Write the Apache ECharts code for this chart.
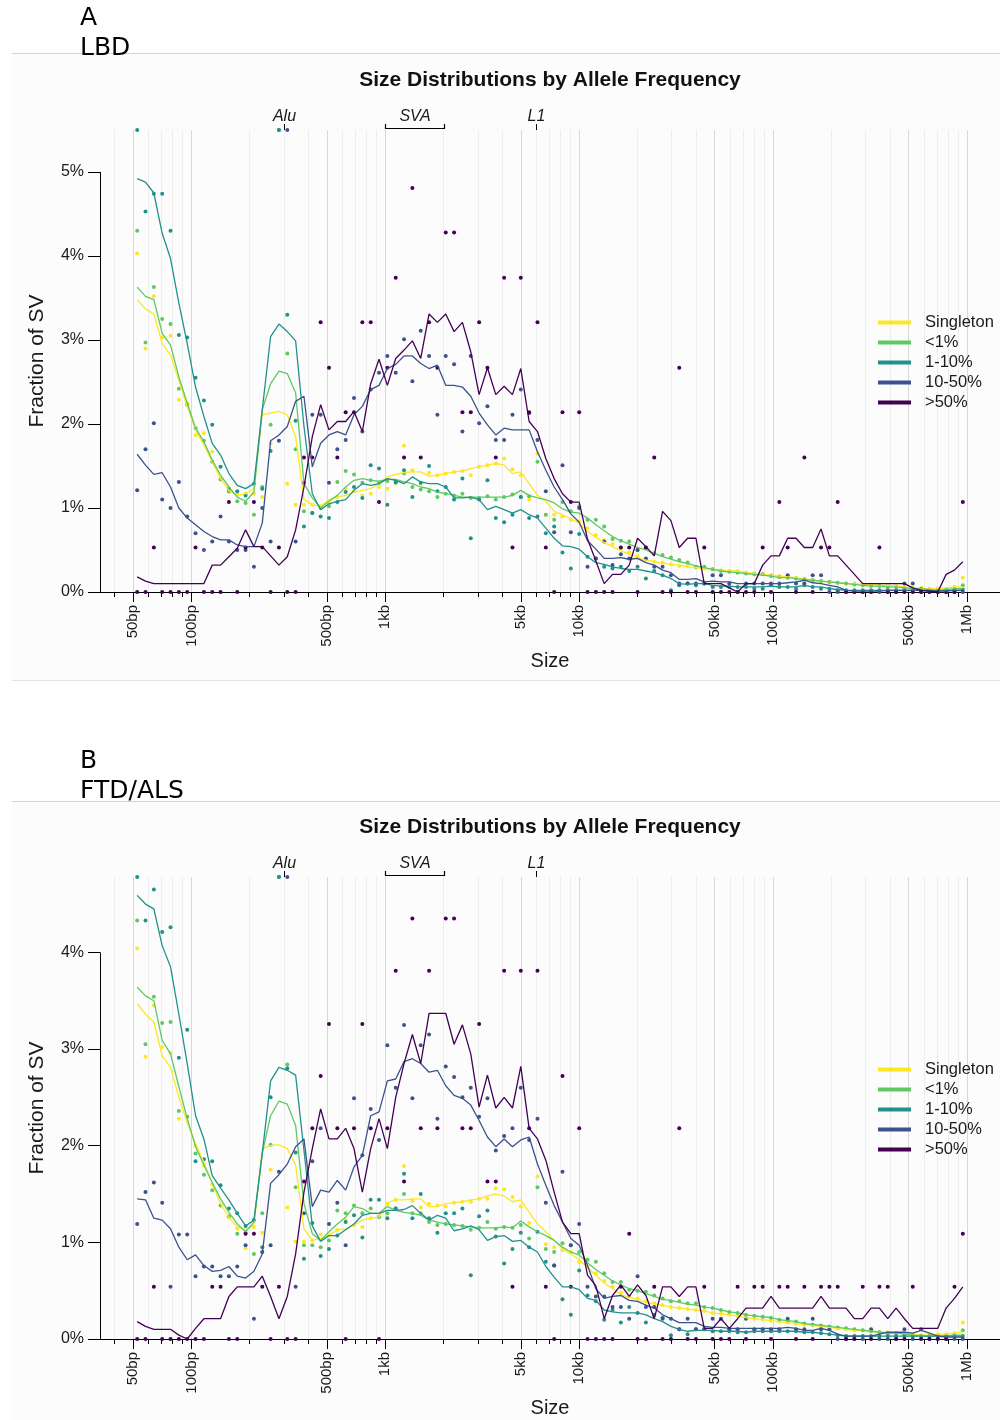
<!DOCTYPE html>
<html><head><meta charset="utf-8">
<script src="https://cdn.jsdelivr.net/npm/echarts@6/dist/echarts.min.js"></script>
<style>html,body{margin:0;padding:0;background:#fff}#c{width:1000px;height:1420px}</style>
</head><body><div id="c"></div>
<script>
// ---- binning of SV sizes (log-spaced bins, 50bp .. 1Mb) ----
const binCount = 100, binMinBp = 50, binMaxBp = 1e6;
const seriesNames = ['Singleton', '<1%', '1-10%', '10-50%', '>50%'];
const seriesColors = ['#fde725', '#5ec962', '#21918c', '#3b528b', '#440154'];
const tickLabelValues = [50, 100, 500, 1000, 5000, 10000, 50000, 100000, 500000, 1000000];
const tickLabelText = ['50bp', '100bp', '500bp', '1kb', '5kb', '10kb', '50kb', '100kb', '500kb', '1Mb'];
const minorTickValues = [40,50,60,70,80,90,100,200,300,400,500,600,700,800,900,1000,2000,3000,4000,5000,6000,7000,8000,9000,
  10000,20000,30000,40000,50000,60000,70000,80000,90000,100000,200000,300000,400000,500000,600000,700000,800000,900000,1000000];
const yTickValues = [0, 1, 2, 3, 4, 5];
const repeatNames = ['Alu', 'SVA', 'L1'];
const repeatStart = [300, 1000, 6000];
const repeatEnd = [300, 2000, 6000];
const panelLetters = ['A', 'B'];
const panelCohorts = ['LBD', 'FTD/ALS'];
const chartTitle = 'Size Distributions by Allele Frequency';

// ---- Panel A (LBD): smoothed lines (% of SV) ----
const A_line_single = [3.48,3.37,3.31,2.96,2.82,2.52,2.21,1.93,1.75,1.55,
 1.35,1.21,1.15,1.17,1.23,2.11,2.13,2.15,2.11,1.85,
 1.10,1.04,1.02,1.10,1.13,1.15,1.19,1.21,1.23,1.29,
 1.37,1.40,1.42,1.43,1.43,1.38,1.39,1.41,1.43,1.44,
 1.47,1.49,1.51,1.53,1.51,1.41,1.43,1.29,1.15,1.08,
 0.96,0.92,0.87,0.82,0.72,0.65,0.59,0.54,0.49,0.45,
 0.41,0.38,0.36,0.34,0.33,0.32,0.30,0.29,0.28,0.27,
 0.26,0.25,0.25,0.23,0.22,0.21,0.20,0.19,0.18,0.17,
 0.15,0.14,0.13,0.12,0.11,0.10,0.10,0.09,0.09,0.08,
 0.08,0.07,0.06,0.05,0.04,0.04,0.04,0.05,0.06,0.06];
const A_line_lt1 = [3.63,3.52,3.48,3.08,2.94,2.56,2.25,1.95,1.79,1.57,
 1.39,1.25,1.13,1.08,1.19,2.17,2.48,2.63,2.60,2.37,
 1.29,1.12,1.00,1.08,1.15,1.25,1.33,1.35,1.33,1.32,
 1.34,1.34,1.31,1.29,1.25,1.23,1.19,1.17,1.15,1.13,
 1.13,1.13,1.13,1.13,1.13,1.15,1.21,1.15,1.12,1.10,
 1.06,0.99,0.95,0.94,0.88,0.80,0.73,0.66,0.61,0.57,
 0.53,0.50,0.46,0.42,0.39,0.36,0.34,0.31,0.29,0.27,
 0.25,0.24,0.23,0.22,0.21,0.20,0.19,0.17,0.17,0.16,
 0.15,0.14,0.13,0.12,0.11,0.10,0.09,0.08,0.07,0.07,
 0.06,0.06,0.05,0.04,0.04,0.03,0.02,0.03,0.04,0.04];
const A_line_1to10 = [4.92,4.88,4.75,4.27,3.97,3.44,2.96,2.44,2.09,1.77,
 1.63,1.41,1.27,1.23,1.29,2.17,3.04,3.19,3.10,2.99,
 1.97,1.17,0.98,1.05,1.08,1.10,1.21,1.29,1.27,1.29,
 1.35,1.33,1.29,1.37,1.31,1.29,1.29,1.25,1.12,1.12,
 1.13,1.10,0.98,1.02,0.98,0.94,0.98,0.92,0.88,0.76,
 0.64,0.55,0.54,0.51,0.42,0.35,0.33,0.30,0.28,0.27,
 0.27,0.25,0.23,0.20,0.16,0.10,0.09,0.10,0.10,0.08,
 0.07,0.07,0.06,0.06,0.06,0.06,0.07,0.06,0.06,0.06,
 0.08,0.06,0.06,0.04,0.03,0.02,0.02,0.02,0.02,0.02,
 0.02,0.02,0.02,0.02,0.02,0.02,0.01,0.02,0.02,0.02];
const A_line_10to50 = [1.64,1.51,1.40,1.42,1.25,1.00,0.88,0.80,0.72,0.66,
 0.62,0.62,0.56,0.54,0.54,0.82,1.80,1.87,1.97,2.27,
 2.33,1.49,1.77,1.87,1.91,1.87,2.11,2.21,2.41,2.46,
 2.66,2.71,2.81,2.81,2.72,2.66,2.70,2.46,2.46,2.44,
 2.33,2.13,1.99,1.87,1.95,1.93,1.93,1.93,1.67,1.45,
 1.25,1.10,0.93,0.83,0.61,0.51,0.40,0.40,0.41,0.39,
 0.40,0.35,0.32,0.26,0.23,0.15,0.15,0.16,0.12,0.13,
 0.12,0.12,0.10,0.10,0.10,0.10,0.10,0.10,0.11,0.12,
 0.14,0.11,0.10,0.08,0.06,0.02,0.01,0.01,0.01,0.01,
 0.02,0.02,0.02,0.02,0.02,0.01,0.01,0.01,0.02,0.02];
const A_line_gt50 = [0.18,0.13,0.10,0.10,0.10,0.10,0.10,0.10,0.10,0.32,
 0.32,0.42,0.52,0.74,0.54,0.54,0.43,0.32,0.42,0.74,
 1.25,1.85,2.23,1.93,2.03,2.03,2.15,1.91,2.48,2.77,
 2.46,2.78,2.88,2.99,2.78,3.31,3.21,3.31,3.10,3.21,
 2.86,2.35,2.67,2.35,2.45,2.35,2.66,2.03,1.91,1.59,
 1.35,1.17,1.07,1.07,0.63,0.37,0.10,0.21,0.21,0.32,
 0.64,0.54,0.43,0.96,0.85,0.53,0.64,0.64,0.10,0.10,
 0.10,0.05,0.00,0.10,0.10,0.32,0.43,0.43,0.64,0.64,
 0.53,0.53,0.75,0.43,0.43,0.32,0.21,0.10,0.10,0.10,
 0.10,0.10,0.10,0.05,0.02,0.01,0.00,0.21,0.26,0.36];

// ---- Panel A (LBD): per-bin points (% of SV) ----
const A_dot_single = [4.03,2.90,3.52,3.03,3.05,2.29,2.25,1.87,1.89,1.67,
 1.35,1.19,1.17,1.17,1.17,1.13,1.77,5.60,1.29,1.04,
 1.04,1.04,1.02,1.05,1.13,1.23,1.20,1.15,1.17,1.25,
 1.23,1.30,1.74,1.45,1.29,1.42,1.39,1.41,1.43,1.44,
 1.39,1.49,1.51,1.53,1.59,1.46,1.39,1.10,1.65,0.92,
 0.92,0.90,0.86,0.84,0.76,0.68,0.62,0.57,0.52,0.47,
 0.43,0.39,0.36,0.35,0.33,0.31,0.31,0.29,0.28,0.27,
 0.26,0.25,0.25,0.23,0.22,0.21,0.20,0.19,0.18,0.17,
 0.16,0.14,0.13,0.12,0.11,0.10,0.10,0.09,0.09,0.08,
 0.08,0.07,0.06,0.05,0.05,0.04,0.04,0.04,0.06,0.17];
const A_dot_lt1 = [4.30,2.97,3.63,3.25,3.19,2.42,2.23,1.95,1.80,1.55,
 1.34,1.20,1.08,1.06,0.92,1.25,1.99,5.60,2.84,1.70,
 0.96,0.94,1.00,1.02,1.31,1.44,1.40,1.30,1.33,1.30,
 1.32,1.30,1.41,1.25,1.22,1.20,1.13,1.17,1.15,1.17,
 1.12,1.12,1.14,1.10,1.13,1.16,1.13,1.14,1.55,0.92,
 0.86,1.07,0.96,1.02,0.86,0.86,0.78,0.63,0.61,0.60,
 0.50,0.52,0.46,0.44,0.41,0.38,0.35,0.30,0.30,0.27,
 0.25,0.24,0.23,0.22,0.21,0.21,0.19,0.18,0.17,0.16,
 0.15,0.14,0.13,0.12,0.11,0.10,0.09,0.08,0.07,0.07,
 0.06,0.06,0.05,0.04,0.04,0.03,0.03,0.03,0.04,0.08];
const A_dot_1to10 = [5.60,4.53,4.74,4.74,4.30,3.06,3.03,2.55,2.28,1.99,
 1.49,1.23,1.20,1.15,1.29,1.23,1.68,5.60,3.30,2.04,
 0.78,0.94,0.90,0.88,1.07,1.19,1.25,1.12,1.51,1.47,
 1.04,1.31,1.45,1.13,1.30,1.50,1.20,1.25,1.10,1.35,
 0.64,1.10,1.33,0.88,0.83,0.92,1.13,0.88,0.90,0.70,
 0.78,0.47,0.28,0.69,0.42,0.40,0.30,0.28,0.30,0.25,
 0.30,0.16,0.25,0.20,0.02,0.08,0.10,0.08,0.10,0.06,
 0.06,0.06,0.06,0.06,0.04,0.04,0.08,0.06,0.06,0.04,
 0.08,0.06,0.04,0.04,0.02,0.02,0.02,0.02,0.02,0.02,
 0.02,0.02,0.02,0.02,0.02,0.02,0.02,0.02,0.02,0.03];
const A_dot_10to50 = [1.21,1.70,2.01,1.10,1.00,1.31,0.90,0.70,0.50,0.60,
 0.90,0.60,0.50,0.50,0.30,1.00,0.60,1.80,5.60,0.60,
 1.30,2.11,2.11,1.30,1.70,1.81,2.31,1.91,2.41,2.61,
 2.81,2.61,3.01,2.51,3.11,2.81,2.11,2.81,2.71,1.91,
 2.81,2.01,2.21,1.81,1.81,2.11,2.41,2.13,1.81,1.20,
 0.71,1.51,0.71,1.00,0.30,0.40,0.60,0.32,0.45,0.40,
 0.50,0.40,0.30,0.30,0.20,0.10,0.10,0.10,0.10,0.20,
 0.20,0.10,0.00,0.10,0.10,0.10,0.10,0.10,0.20,0.10,
 0.10,0.20,0.20,0.00,0.00,0.00,0.00,0.00,0.00,0.00,
 0.00,0.00,0.10,0.10,0.00,0.00,0.00,0.00,0.00,0.00];
const A_dot_gt50 = [0,0,0.53,0,0,0,0,0.53,0,0,
 0,1.07,0,0.53,1.07,0.53,0,0.53,0,0,
 1.60,1.60,3.21,2.67,1.60,2.14,2.14,3.21,3.21,1.07,
 2.67,3.74,1.60,4.81,1.60,3.21,2.67,4.28,4.28,2.14,
 2.14,3.21,2.67,1.60,3.74,0.53,3.74,2.14,3.21,0.53,
 0,2.14,1.07,2.14,0,0,0,0,0.53,0.53,
 0,0.53,1.60,0,0,2.67,0,0,0.53,0,
 0,0,0,0,0,0.53,0,1.07,0.53,0,
 1.60,0,0.53,0.53,1.07,0,0,0,0,0.53,
 0,0,0,0,0,0,0,0,0,1.07];

// ---- Panel B (FTD/ALS): smoothed lines (% of SV) ----
const B_line_single = [3.47,3.36,3.28,2.93,2.81,2.50,2.24,2.02,1.83,1.61,
 1.40,1.26,1.16,1.13,1.18,1.97,2.00,2.01,1.97,1.80,
 1.14,1.02,1.04,1.07,1.13,1.14,1.18,1.23,1.25,1.26,
 1.41,1.44,1.44,1.45,1.45,1.37,1.37,1.40,1.41,1.42,
 1.44,1.45,1.48,1.50,1.48,1.42,1.44,1.31,1.19,1.11,
 1.02,0.93,0.88,0.82,0.74,0.66,0.58,0.52,0.46,0.43,
 0.41,0.38,0.36,0.35,0.33,0.32,0.31,0.30,0.29,0.27,
 0.26,0.25,0.24,0.22,0.21,0.20,0.19,0.18,0.17,0.16,
 0.15,0.14,0.13,0.12,0.11,0.10,0.09,0.09,0.08,0.07,
 0.07,0.06,0.06,0.05,0.04,0.04,0.05,0.05,0.06,0.07];
const B_line_lt1 = [3.64,3.55,3.50,3.09,2.95,2.61,2.28,1.99,1.80,1.62,
 1.45,1.31,1.19,1.11,1.21,1.92,2.31,2.46,2.43,2.21,
 1.40,1.09,1.02,1.11,1.19,1.26,1.37,1.35,1.30,1.30,
 1.37,1.33,1.31,1.30,1.28,1.23,1.21,1.19,1.18,1.17,
 1.16,1.15,1.15,1.15,1.16,1.15,1.22,1.16,1.11,1.07,
 1.02,0.95,0.90,0.87,0.79,0.72,0.66,0.60,0.56,0.52,
 0.50,0.47,0.44,0.41,0.40,0.38,0.36,0.35,0.33,0.32,
 0.30,0.28,0.27,0.25,0.24,0.23,0.22,0.20,0.19,0.18,
 0.16,0.15,0.14,0.13,0.12,0.11,0.10,0.09,0.08,0.07,
 0.06,0.06,0.05,0.04,0.03,0.03,0.03,0.03,0.04,0.04];
const B_line_1to10 = [4.59,4.50,4.45,4.07,3.85,3.36,2.85,2.31,2.07,1.69,
 1.56,1.44,1.30,1.17,1.23,1.92,2.67,2.81,2.78,2.73,
 1.95,1.17,1.01,1.07,1.07,1.13,1.19,1.28,1.30,1.30,
 1.33,1.33,1.34,1.38,1.30,1.23,1.28,1.25,1.12,1.14,
 1.17,1.13,1.02,1.06,1.07,1.01,1.02,0.95,0.90,0.75,
 0.64,0.54,0.54,0.51,0.42,0.40,0.30,0.28,0.27,0.27,
 0.27,0.25,0.21,0.18,0.13,0.10,0.08,0.09,0.09,0.09,
 0.08,0.08,0.08,0.07,0.08,0.08,0.08,0.08,0.08,0.08,
 0.07,0.07,0.06,0.05,0.04,0.03,0.03,0.03,0.03,0.03,
 0.03,0.03,0.03,0.03,0.03,0.03,0.03,0.03,0.03,0.03];
const B_line_10to50 = [1.45,1.44,1.25,1.23,1.14,0.95,0.82,0.87,0.76,0.70,
 0.71,0.75,0.65,0.63,0.70,0.88,1.61,1.70,1.81,1.99,
 2.07,1.37,1.54,1.52,1.64,1.54,1.78,1.90,2.31,2.35,
 2.67,2.69,2.87,2.90,2.85,2.76,2.78,2.62,2.52,2.49,
 2.42,2.26,2.09,1.99,2.07,1.99,2.06,2.09,1.81,1.59,
 1.38,1.21,1.04,0.97,0.76,0.52,0.42,0.44,0.45,0.40,
 0.39,0.35,0.32,0.25,0.21,0.17,0.17,0.17,0.13,0.12,
 0.12,0.11,0.11,0.11,0.11,0.11,0.11,0.11,0.12,0.11,
 0.09,0.09,0.11,0.09,0.05,0.03,0.03,0.03,0.03,0.05,
 0.07,0.07,0.07,0.06,0.09,0.06,0.03,0.02,0.02,0.02];
const B_line_gt50 = [0.18,0.13,0.10,0.10,0.10,0.04,0.00,0.11,0.21,0.21,
 0.21,0.44,0.54,0.54,0.54,0.65,0.44,0.21,0.44,0.88,
 1.52,1.97,2.38,2.07,2.07,2.18,1.97,1.52,1.97,2.28,
 1.97,2.50,2.85,3.15,2.85,3.37,3.37,3.37,3.05,3.25,
 2.95,2.40,2.73,2.39,2.50,2.39,2.82,2.18,2.07,1.85,
 1.52,1.21,1.09,1.09,0.66,0.55,0.21,0.45,0.56,0.44,
 0.56,0.45,0.21,0.54,0.54,0.44,0.54,0.54,0.11,0.11,
 0.21,0.11,0.21,0.32,0.32,0.32,0.44,0.32,0.32,0.32,
 0.32,0.32,0.44,0.32,0.32,0.32,0.21,0.21,0.32,0.32,
 0.21,0.32,0.21,0.11,0.11,0.11,0.11,0.32,0.42,0.54];

// ---- Panel B (FTD/ALS): per-bin points (% of SV) ----
const B_dot_single = [4.04,2.92,3.45,3.02,2.96,2.28,2.30,2.00,1.80,1.60,
 1.38,1.26,1.14,0.94,1.16,1.10,1.75,5.00,1.36,1.01,
 1.01,1.02,1.08,1.07,1.13,1.23,1.18,1.16,1.25,1.27,
 1.40,1.44,1.79,1.43,1.36,1.40,1.38,1.37,1.41,1.42,
 1.42,1.45,1.45,1.56,1.55,1.47,1.37,1.20,1.68,0.98,
 0.95,0.92,0.90,0.80,0.75,0.68,0.60,0.54,0.48,0.44,
 0.42,0.39,0.37,0.35,0.33,0.32,0.31,0.30,0.29,0.27,
 0.26,0.25,0.24,0.22,0.21,0.20,0.19,0.18,0.17,0.16,
 0.15,0.14,0.13,0.12,0.11,0.10,0.09,0.09,0.08,0.07,
 0.07,0.06,0.06,0.05,0.04,0.04,0.05,0.05,0.06,0.17];
const B_dot_lt1 = [4.33,3.05,3.54,3.27,3.28,2.36,2.30,1.92,1.70,1.54,
 1.38,1.27,1.09,1.10,0.88,1.30,2.01,5.00,2.84,1.57,
 0.97,0.97,0.95,1.02,1.33,1.30,1.38,1.30,1.35,1.26,
 1.30,1.35,1.50,1.30,1.30,1.21,1.18,1.19,1.18,1.17,
 1.13,1.15,1.21,1.14,1.16,1.15,1.18,1.04,1.57,0.93,
 0.90,0.99,0.97,0.90,0.82,0.80,0.68,0.59,0.59,0.51,
 0.50,0.49,0.45,0.42,0.39,0.39,0.37,0.37,0.33,0.32,
 0.30,0.28,0.27,0.25,0.24,0.23,0.22,0.20,0.19,0.18,
 0.16,0.15,0.14,0.13,0.12,0.11,0.10,0.09,0.08,0.07,
 0.06,0.06,0.05,0.04,0.03,0.03,0.03,0.03,0.04,0.09];
const B_dot_1to10 = [5.00,4.33,4.65,4.21,4.26,2.91,3.20,1.84,1.86,1.84,
 1.59,1.35,1.30,1.17,1.23,0.95,2.50,5.00,2.80,1.93,
 0.83,1.20,0.86,0.93,1.07,1.21,1.28,1.05,1.44,1.44,
 1.25,1.35,1.71,1.25,1.50,1.25,1.10,1.30,1.30,1.35,
 0.66,1.27,1.33,1.06,0.78,0.93,1.10,0.95,1.11,0.80,
 0.76,0.41,0.25,0.71,0.45,0.39,0.20,0.30,0.17,0.33,
 0.27,0.17,0.25,0.22,0.04,0.10,0.05,0.10,0.10,0.08,
 0.08,0.08,0.07,0.07,0.08,0.08,0.08,0.08,0.08,0.08,
 0.07,0.07,0.06,0.05,0.04,0.03,0.03,0.03,0.03,0.03,
 0.03,0.03,0.03,0.03,0.03,0.03,0.03,0.03,0.03,0.03];
const B_dot_10to50 = [1.19,1.52,1.62,1.41,0.54,1.08,1.08,0.65,0.75,0.75,
 0.65,0.65,0.75,0.97,0.21,0.90,0.97,1.73,5.00,0.54,
 1.30,1.84,2.18,1.19,1.41,0.97,2.49,1.90,2.38,2.06,
 3.04,2.60,3.25,2.49,3.04,3.15,2.28,2.82,2.71,2.50,
 2.60,2.30,2.49,1.95,2.10,2.18,2.60,2.06,2.28,1.41,
 0.76,1.73,0.97,1.19,0.54,0.44,0.44,0.33,0.33,0.21,
 0.65,0.33,0.33,0.21,0.21,0.10,0.21,0.10,0.10,0.21,
 0.21,0.10,0.10,0.21,0.10,0.10,0.10,0.10,0.21,0.10,
 0.10,0.21,0.10,0.10,0.00,0.00,0.00,0.00,0.10,0.00,
 0.00,0.00,0.10,0.00,0.10,0.00,0.00,0.00,0.00,0.00];
const B_dot_gt50 = [0,0,0.54,0,0,0,0,0,0,0.54,
 0.54,0,0,1.09,1.09,0.54,0,0.54,0,0,
 1.63,2.18,2.72,3.26,2.18,0,2.18,3.26,2.18,0,
 2.18,3.81,1.63,4.35,2.18,3.81,2.18,4.35,4.35,2.18,
 2.18,3.26,1.63,1.63,3.81,0.54,3.81,2.18,3.81,0.54,
 0,2.72,0.54,2.18,0,0,0,0,0.54,1.09,
 0,0,0.54,0,0,2.18,0,0,0.54,0,
 0,0,0.54,0,0.54,0.54,0,0.54,0.54,0,
 0.54,0,0.54,0.54,0.54,0,0,0.54,0,0.54,
 0.54,0,0,0.54,0,0,0,0,0.54,1.09];

const panels = [
  { lines: [A_line_single, A_line_lt1, A_line_1to10, A_line_10to50, A_line_gt50],
    dots: [A_dot_single, A_dot_lt1, A_dot_1to10, A_dot_10to50, A_dot_gt50],
    yMax: 5.5, yTop: 5, gridTop: 130, boxTop: 53, boxBottom: 680, letterY: 18, cohortY: 48, titleY: 80, legendTop: 309 },
  { lines: [B_line_single, B_line_lt1, B_line_1to10, B_line_10to50, B_line_gt50],
    dots: [B_dot_single, B_dot_lt1, B_dot_1to10, B_dot_10to50, B_dot_gt50],
    yMax: 4.78, yTop: 4, gridTop: 877, boxTop: 801, boxBottom: 1440, letterY: 761, cohortY: 791, titleY: 827, legendTop: 1056 }
];

const binCenters = Array.from({ length: binCount }, (_, i) => binMinBp * Math.pow(binMaxBp / binMinBp, (i + 0.5) / binCount));
const xMin = 33.79, xMax = 1.48e6;
const gridH = 462, gridLeft = 100, gridW = 900;
const FONT = 'Liberation Sans, Arial, sans-serif';
const TXT = '#1a1a1a';

function sizeLabel(v) {
  for (let i = 0; i < tickLabelValues.length; i++) {
    if (Math.abs(v - tickLabelValues[i]) / tickLabelValues[i] < 1e-6) return tickLabelText[i];
  }
  return '';
}

const grids = [], xAxes = [], yAxes = [], series = [], legends = [];
panels.forEach((p, g) => {
  grids.push({ left: gridLeft, top: p.gridTop, width: gridW, height: gridH, containLabel: false, outerBoundsMode: 'none' });
  xAxes.push({ type: 'log', logBase: 10, gridIndex: g, min: xMin, max: xMax, position: 'bottom',
    axisLine: { show: true, onZero: false, lineStyle: { color: '#000', width: 1 } },
    axisTick: { show: true, customValues: minorTickValues, length: 5, lineStyle: { color: '#000', width: 1 } },
    axisLabel: { show: false },
    splitLine: { show: true, lineStyle: { color: '#ededed', width: 1 } },
    minorTick: { show: false }, minorSplitLine: { show: false } });
  xAxes.push({ type: 'log', logBase: 10, gridIndex: g, min: xMin, max: xMax, position: 'bottom',
    axisLine: { show: false, onZero: false },
    axisTick: { show: true, customValues: tickLabelValues, length: 10, lineStyle: { color: '#000', width: 1 } },
    axisLabel: { show: true, customValues: tickLabelValues, rotate: 90, margin: 13, fontSize: 15, fontFamily: FONT, color: TXT,
      formatter: (v) => sizeLabel(v) },
    splitLine: { show: true, lineStyle: { color: '#d8d8d8', width: 1 } },
    name: 'Size', nameLocation: 'middle', nameGap: 59, nameMoveOverlap: false,
    nameTextStyle: { fontSize: 20, fontFamily: FONT, color: TXT } });
  yAxes.push({ type: 'value', gridIndex: g, min: 0, max: p.yMax,
    axisLine: { show: false },
    axisTick: { show: true, customValues: yTickValues, length: 12, lineStyle: { color: '#000', width: 1 } },
    axisLabel: { show: true, customValues: yTickValues, margin: 16, fontSize: 16, fontFamily: FONT, color: TXT, formatter: (v) => v + '%' },
    splitLine: { show: false },
    name: 'Fraction of SV', nameLocation: 'middle', nameGap: 52, nameRotate: 90, nameMoveOverlap: false,
    nameTextStyle: { fontSize: 21, fontFamily: FONT, color: TXT } });
  for (let k = 0; k < seriesNames.length; k++) {
    series.push({ type: 'scatter', name: seriesNames[k], xAxisIndex: g * 2, yAxisIndex: g,
      data: p.dots[k].map((v, i) => [binCenters[i], Math.min(v, p.yMax)]),
      symbol: 'circle', symbolSize: 4, itemStyle: { color: seriesColors[k], opacity: 1 }, silent: true, z: 2, animation: false });
  }
  for (let k = 0; k < seriesNames.length; k++) {
    series.push({ type: 'line', name: seriesNames[k], xAxisIndex: g * 2, yAxisIndex: g,
      data: p.lines[k].map((v, i) => [binCenters[i], v]),
      showSymbol: false, symbol: 'none', smooth: false,
      lineStyle: { color: seriesColors[k], width: 1.3 }, itemStyle: { color: seriesColors[k] }, silent: true, z: 3, animation: false });
  }
  legends.push({ orient: 'vertical', left: 873, top: p.legendTop, itemWidth: 33, itemHeight: 4, itemGap: 3,
    selectedMode: false, data: seriesNames.map(n => ({ name: n, icon: 'rect' })),
    textStyle: { fontSize: 16.5, fontFamily: FONT, color: TXT, padding: [0, 0, 0, 9] } });
});

const chart = echarts.init(document.getElementById('c'), null, { renderer: 'canvas', width: 1000, height: 1420 });
chart.setOption({ animation: false, backgroundColor: '#ffffff', grid: grids, xAxis: xAxes, yAxis: yAxes, series: series, legend: legends });

const elements = [];
panels.forEach((p, g) => {
  const X = (v) => chart.convertToPixel({ xAxisIndex: g * 2 }, v);
  const Y = (v) => chart.convertToPixel({ yAxisIndex: g }, v);
  elements.push({ type: 'rect', z: -10, silent: true, shape: { x: 12, y: p.boxTop, width: 988, height: p.boxBottom - p.boxTop }, style: { fill: '#fcfcfc' } });
  elements.push({ type: 'line', z: -9, silent: true, shape: { x1: 12, y1: p.boxTop + 0.5, x2: 1000, y2: p.boxTop + 0.5 }, style: { stroke: '#d4d4d4', lineWidth: 1 } });
  elements.push({ type: 'line', z: -9, silent: true, shape: { x1: 12, y1: p.boxBottom + 0.5, x2: 1000, y2: p.boxBottom + 0.5 }, style: { stroke: '#e4e4e4', lineWidth: 1 } });
  elements.push({ type: 'text', silent: true, x: 80, y: p.letterY, style: { text: panelLetters[g], fontSize: 25, fontFamily: 'DejaVu Sans', fill: '#000', verticalAlign: 'middle', align: 'left' } });
  elements.push({ type: 'text', silent: true, x: 80, y: p.cohortY, style: { text: panelCohorts[g], fontSize: 25, fontFamily: 'DejaVu Sans', fill: '#000', verticalAlign: 'middle', align: 'left' } });
  elements.push({ type: 'text', silent: true, x: gridLeft + gridW / 2, y: p.titleY, style: { text: chartTitle, fontSize: 21, fontWeight: 'bold', fontFamily: FONT, fill: '#111', verticalAlign: 'middle', align: 'center' } });
  const xa = Math.round(X(xMin)) + 0.5;
  elements.push({ type: 'line', silent: true, z: 5, shape: { x1: xa, y1: Y(0), x2: xa, y2: Y(p.yTop) }, style: { stroke: '#000', lineWidth: 1 } });
  const top = p.gridTop;
  for (let r = 0; r < repeatNames.length; r++) {
    const xs = Math.round(X(repeatStart[r])) + 0.5, xe = Math.round(X(repeatEnd[r])) + 0.5;
    elements.push({ type: 'text', silent: true, x: (xs + xe) / 2, y: top - 13, style: { text: repeatNames[r], fontSize: 16, fontStyle: 'italic', fontFamily: FONT, fill: TXT, align: 'center', verticalAlign: 'middle' } });
    if (repeatStart[r] === repeatEnd[r]) {
      elements.push({ type: 'line', silent: true, shape: { x1: xs, y1: top - 6, x2: xs, y2: top }, style: { stroke: '#000', lineWidth: 1 } });
    } else {
      elements.push({ type: 'polyline', silent: true, shape: { points: [[xs, top - 6], [xs, top - 1.5], [xe, top - 1.5], [xe, top - 6]] }, style: { stroke: '#000', lineWidth: 1.2, fill: null } });
    }
  }
});
chart.setOption({ graphic: { elements: elements } });
</script>
</body></html>
